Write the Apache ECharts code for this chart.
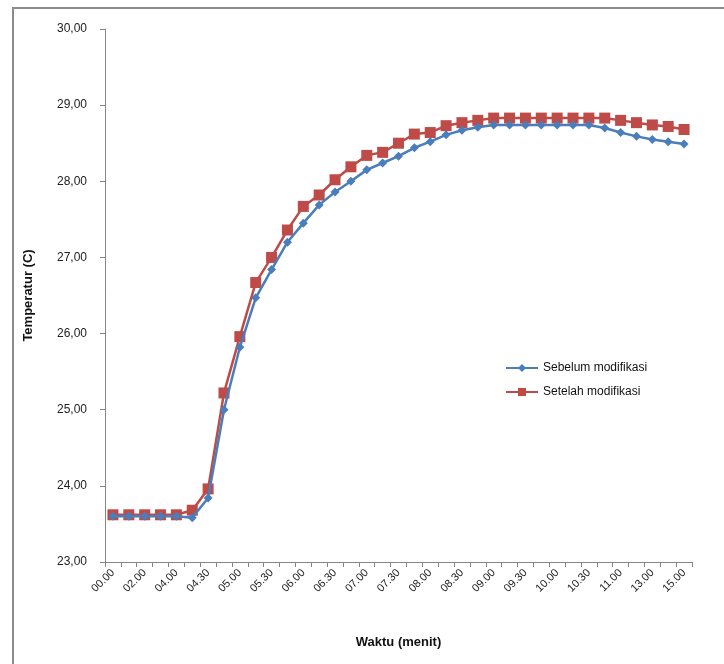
<!DOCTYPE html>
<html>
<head>
<meta charset="utf-8">
<script src="https://cdn.jsdelivr.net/npm/echarts@6/dist/echarts.min.js"></script>
<style>html,body{margin:0;padding:0;background:#fff;}#chart{width:724px;height:664px;}</style>
</head>
<body>
<div id="chart"></div>
<script>
var categories = ["00.00","01.00","02.00","03.00","04.00","04.15","04.30","04.45","05.00","05.15",
  "05.30","05.45","06.00","06.15","06.30","06.45","07.00","07.15","07.30","07.45",
  "08.00","08.15","08.30","08.45","09.00","09.15","09.30","09.45","10.00","10.15",
  "10.30","10.45","11.00","12.00","13.00","14.00","15.00"];
var sebelum = [23.60,23.60,23.60,23.60,23.60,23.58,23.84,25.00,25.82,26.47,
  26.84,27.20,27.45,27.69,27.86,28.00,28.15,28.24,28.33,28.44,
  28.52,28.61,28.67,28.71,28.74,28.74,28.74,28.74,28.74,28.74,
  28.74,28.70,28.64,28.59,28.55,28.52,28.49];
var sesudah = [23.62,23.62,23.62,23.62,23.62,23.68,23.96,25.22,25.96,26.67,
  27.00,27.36,27.67,27.82,28.02,28.19,28.34,28.38,28.50,28.62,
  28.64,28.73,28.77,28.80,28.83,28.83,28.83,28.83,28.83,28.83,
  28.83,28.83,28.80,28.77,28.74,28.72,28.68];
var seriesNames = ["Sebelum modifikasi","Setelah modifikasi"];
var yTicks = {min:23, max:30, interval:1};

var chart = echarts.init(document.getElementById('chart'));
var fontFam = '"Liberation Sans", Arial, sans-serif';
chart.setOption({
  animation:false,
  backgroundColor:'#fff',
  graphic:[{type:'rect', shape:{x:13,y:8,width:720,height:670}, style:{fill:'none', stroke:'#8c8c8c', lineWidth:2}, z:-1}],
  grid:{left:105, right:32, top:29, bottom:102},
  legend:{
    left:500, top:357, orient:'vertical', itemGap:12, itemWidth:32, itemHeight:10,
    textStyle:{fontFamily:fontFam, fontSize:12, color:'#111'},
    data:seriesNames
  },
  xAxis:{
    type:'category', data:categories, boundaryGap:true,
    name:'Waktu (menit)', nameLocation:'middle', nameGap:74,
    nameTextStyle:{fontFamily:fontFam, fontSize:13, fontWeight:'bold', color:'#111'},
    axisLine:{lineStyle:{color:'#868686', width:1}},
    axisTick:{show:true, interval:0, length:5, lineStyle:{color:'#868686'}},
    axisLabel:{interval:1, rotate:45, fontFamily:fontFam, fontSize:11, color:'#222', margin:9},
    splitLine:{show:false}
  },
  yAxis:{
    type:'value', min:yTicks.min, max:yTicks.max, interval:yTicks.interval,
    name:'Temperatur (C)', nameLocation:'middle', nameGap:70,
    nameTextStyle:{fontFamily:fontFam, fontSize:13, fontWeight:'bold', color:'#111'},
    axisLine:{show:true, lineStyle:{color:'#868686', width:1}},
    axisTick:{show:true, inside:false, length:5, lineStyle:{color:'#868686'}},
    axisLabel:{fontFamily:fontFam, fontSize:12, color:'#222', margin:18,
      formatter:function(v){return v.toFixed(2).replace('.',',');}},
    splitLine:{show:false}
  },
  series:[
    {name:seriesNames[0], type:'line', data:sebelum, symbol:'diamond', symbolSize:9, showAllSymbol:true,
     lineStyle:{color:'#4A7EBB', width:2.5}, itemStyle:{color:'#4A7EBB'}, z:3},
    {name:seriesNames[1], type:'line', data:sesudah, symbol:'rect', symbolSize:11, showAllSymbol:true,
     lineStyle:{color:'#BE4B48', width:2.5}, itemStyle:{color:'#BE4B48'}, z:2}
  ]
});
</script>
</body>
</html>
